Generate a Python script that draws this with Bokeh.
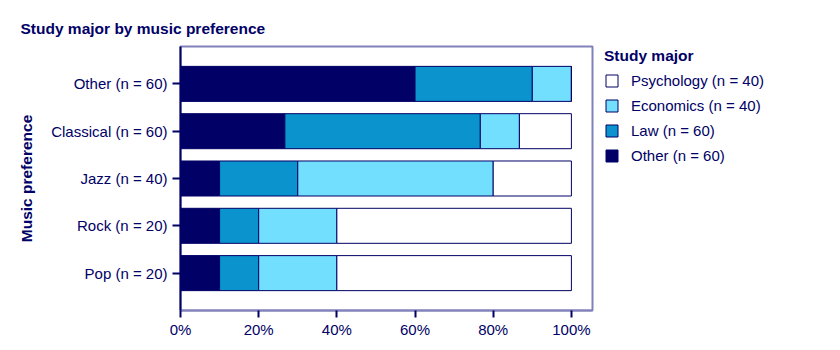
from bokeh.plotting import figure
from bokeh.layouts import row
from bokeh.models import FactorRange, Range1d, Legend, LegendItem, FixedTicker, ColumnDataSource
from bokeh.embed import file_html
from bokeh.resources import INLINE

# ---- data (percent of each music-preference group) ----
music = ["Pop (n = 20)", "Rock (n = 20)", "Jazz (n = 40)", "Classical (n = 60)", "Other (n = 60)"]
major_keys = ["other", "law", "economics", "psychology"]
major_labels = ["Other (n = 60)", "Law (n = 60)", "Economics (n = 40)", "Psychology (n = 40)"]
other = [10, 10, 10, 26.7, 60]
law = [10, 10, 20, 50, 30]
economics = [20, 20, 50, 10, 10]
psychology = [60, 60, 20, 13.3, 0]
x_ticks = [0, 20, 40, 60, 80, 100]
x_tick_labels = ["0%", "20%", "40%", "60%", "80%", "100%"]

NAVY = "#000066"
FRAME = "#8282BA"
colors = [NAVY, "#0A93CD", "#73DFFF", "#FFFFFF"]
FONT = "Liberation Sans"
FS = "15px"
FSB = "15.5px"

src = ColumnDataSource(dict(music=music, other=other, law=law,
                            economics=economics, psychology=psychology))

p = figure(width=594, height=350, output_backend="svg", toolbar_location=None,
           y_range=FactorRange(factors=music, range_padding=0.29, range_padding_units="absolute"),
           x_range=Range1d(0, 105.4),
           min_border_left=180, min_border_right=2, min_border_top=46, min_border_bottom=40)

renderers = p.hbar_stack(major_keys, y="music", height=0.74, color=colors,
                         line_color=NAVY, line_width=1, source=src)

p.grid.visible = False
p.background_fill_color = "white"
p.border_fill_color = "white"
p.outline_line_color = FRAME
p.outline_line_width = 2

# title
p.title.text = "Study major by music preference"
p.title.text_font = FONT
p.title.text_font_size = FSB
p.title.text_font_style = "bold"
p.title.text_color = NAVY
p.title.align = "left"
p.title.offset = -160
p.title.standoff = 19

# x axis
xa = p.xaxis[0]
xa.ticker = FixedTicker(ticks=x_ticks)
xa.major_label_overrides = {t: l for t, l in zip(x_ticks, x_tick_labels)}
xa.axis_line_color = FRAME
xa.axis_line_width = 2
xa.major_tick_line_color = NAVY
xa.major_tick_line_width = 2
xa.major_tick_in = 0
xa.major_tick_out = 7
xa.minor_tick_line_color = None
xa.major_label_text_font = FONT
xa.major_label_text_font_size = FS
xa.major_label_text_color = NAVY
xa.major_label_standoff = 3

# y axis
ya = p.yaxis[0]
ya.axis_line_color = NAVY
ya.axis_line_width = 2
ya.major_tick_line_color = NAVY
ya.major_tick_line_width = 2
ya.major_tick_in = 0
ya.major_tick_out = 8
ya.minor_tick_line_color = None
ya.major_label_text_font = FONT
ya.major_label_text_font_size = FS
ya.major_label_text_color = NAVY
ya.major_label_standoff = 5
ya.axis_label = "Music preference"
ya.axis_label_text_font = FONT
ya.axis_label_text_font_size = FSB
ya.axis_label_text_font_style = "bold"
ya.axis_label_text_color = NAVY
ya.axis_label_standoff = 13

# ---- legend panel (separate canvas to the right of the chart) ----
lg = figure(width=246, height=350, output_backend="svg", toolbar_location=None,
            x_range=Range1d(0, 1), y_range=Range1d(0, 1),
            x_axis_location=None, y_axis_location=None,
            min_border=0, outline_line_color=None)
lg.grid.visible = False
lg.background_fill_color = "white"
lg.border_fill_color = "white"
# swatch renderers: placed far outside the visible ranges, used only for legend glyphs
swatches = [lg.hbar(y=[10], left=[10], right=[11], height=0.5, fill_color=c,
                    line_color=NAVY, line_width=1) for c in colors]
items = [LegendItem(label=major_labels[i], renderers=[swatches[i]]) for i in [3, 2, 1, 0]]
legend = Legend(items=items, location=(10, 146), padding=0, margin=0,
                border_line_color=None, background_fill_alpha=0,
                title="Study major", title_text_font=FONT, title_text_font_size=FSB,
                title_text_font_style="bold", title_text_color=NAVY, title_standoff=7,
                label_text_font=FONT, label_text_font_size=FS, label_text_color=NAVY,
                glyph_width=15, glyph_height=15, label_height=15, spacing=8,
                label_standoff=12)
lg.add_layout(legend)

layout = row(p, lg, spacing=0)
open("out.html", "w").write(file_html(layout, INLINE))
